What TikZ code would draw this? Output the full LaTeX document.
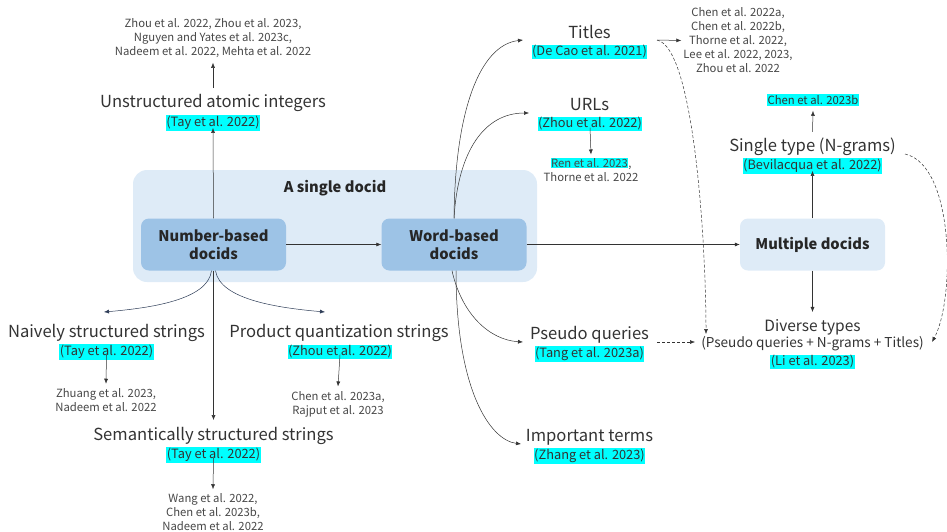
\documentclass[tikz,border=0pt]{standalone}
\usepackage{fontspec}
\setmainfont{Noto Sans CJK SC}
\usetikzlibrary{arrows.meta}
\definecolor{bgblue}{HTML}{DEEBF7}
\definecolor{midblue}{HTML}{9DC3E6}
\definecolor{hl}{HTML}{00FFFF}
\definecolor{txt}{HTML}{333333}
\definecolor{navy}{HTML}{2B3A55}
\setlength{\fboxsep}{0.5pt}
\begin{document}
\begin{tikzpicture}[x=1pt,y=-1pt,
  lbl/.style={font=\fontsize{16.6}{18}\selectfont, text=txt, inner sep=0pt},
  cite/.style={font=\fontsize{12.8}{14}\selectfont, fill=hl, text=txt, inner xsep=0.5pt, inner ysep=1pt},
  refs/.style={font=\fontsize{11.3}{14}\selectfont, text=txt!90, align=center, inner sep=0pt},
  box/.style={rounded corners=8pt, minimum width=145pt, minimum height=52pt, font=\bfseries\fontsize{14.7}{18}\selectfont, align=center, text=black!85},
  arr/.style={-{Latex[length=5pt,width=4pt]}, draw=black!80, line width=0.5pt},
  narr/.style={arr, draw=navy},
  darr/.style={arr, dashed, dash pattern=on 3pt off 2pt},
  ]
\useasboundingbox (0,0) rectangle (947,531);
% containers
\node[fill=bgblue, rounded corners=14pt, minimum width=404pt, minimum height=112pt] (single) at (335,226) {};
\node[font=\bfseries\fontsize{14.7}{16}\selectfont, text=black!85] (singlelbl) at (335,188) {A single docid};
\node[box, fill=midblue] (num) at (213.5,244.5) {Number-based\\docids};
\node[box, fill=midblue] (word) at (454,244.5) {Word-based\\docids};
\node[box, fill=bgblue] (multi) at (812.5,244.5) {Multiple docids};
% number-based branches
\node[lbl] (unstr) at (213,103) {Unstructured atomic integers};
\node[cite] (unstrc) at (213,123) {(Tay et al. 2022)};
\node[refs] (unstrr) at (213,38) {Zhou et al. 2022, Zhou et al. 2023,\\Nguyen and Yates et al. 2023c,\\Nadeem et al. 2022, Mehta et al. 2022};
\node[lbl] (naive) at (106.5,333) {Naively structured strings};
\node[cite] (naivec) at (106.5,352) {(Tay et al. 2022)};
\node[refs] (naiver) at (106,400.5) {Zhuang et al. 2023,\\Nadeem et al. 2022};
\node[lbl] (prod) at (339,333) {Product quantization strings};
\node[cite] (prodc) at (340,352) {(Zhou et al. 2022)};
\node[refs] (prodr) at (338,404.5) {Chen et al. 2023a,\\Rajput et al. 2023};
\node[lbl] (sem) at (213.5,436) {Semantically structured strings};
\node[cite] (semc) at (213.5,455) {(Tay et al. 2022)};
\node[refs] (semr) at (213,512) {Wang et al. 2022,\\Chen et al. 2023b,\\Nadeem et al. 2022};
% word-based branches
\node[lbl] (titles) at (589.5,32) {Titles};
\node[cite] (titlesc) at (589.5,52) {(De Cao et al. 2021)};
\node[refs] (titlesr) at (738,40.5) {Chen et al. 2022a,\\Chen et al. 2022b,\\Thorne et al. 2022,\\Lee et al. 2022, 2023,\\Zhou et al. 2022};
\node[lbl] (urls) at (589.5,105) {URLs};
\node[cite] (urlsc) at (590,124) {(Zhou et al. 2022)};
\node[refs] (urlsr) at (591,169.5) {\colorbox{hl}{Ren et al. 2023},\\Thorne et al. 2022};
\node[lbl] (pseudo) at (589.5,335) {Pseudo queries};
\node[cite] (pseudoc) at (589.5,354) {(Tang et al. 2023a)};
\node[lbl] (imp) at (589.5,437) {Important terms};
\node[cite] (impc) at (589.5,456) {(Zhang et al. 2023)};
% multiple docids branches
\node[lbl] (stype) at (812.5,147) {Single type (N-grams)};
\node[cite] (stypec) at (812.5,166) {(Bevilacqua et al. 2022)};
\node[cite, font=\fontsize{11.3}{13}\selectfont] (styper) at (813,100) {Chen et al. 2023b};
\node[lbl, font=\fontsize{15.5}{18}\selectfont] (div) at (812.5,327) {Diverse types};
\node[lbl, font=\fontsize{13.6}{15}\selectfont] (div2) at (812.5,344) {(Pseudo queries + N-grams + Titles)};
\node[cite] (divc) at (812.5,362) {(Li et al. 2023)};
% coordinates for free connector ends
\coordinate (naivein) at (104,312);
\coordinate (prodin) at (325,312);
\coordinate (titlesin) at (523,40);
\coordinate (urlsin) at (529,113);
\coordinate (pseudoin) at (523,342);
\coordinate (impin) at (521,444);
\coordinate (titlesout) at (657,40);
\coordinate (pseudoout) at (657,342);
\coordinate (divin) at (695,342);
\coordinate (divtop) at (706,334);
\coordinate (stypeout) at (905,154);
\coordinate (divright) at (932,342);
% connectors
\draw[arr] (num.east) -- (word.west);
\draw[arr] (word.east) -- (multi.west);
\draw[arr] (num.north) -- ([yshift=3pt]unstrc.south);
\draw[arr] ([yshift=6pt]unstr.north) -- ([yshift=-5pt]unstrr.south);
\draw[narr] ([xshift=-2pt]num.south) .. controls (208,300) and (150,308) .. (naivein);
\draw[narr] ([xshift=2pt]num.south) .. controls (220,300) and (280,308) .. (prodin);
\draw[arr] (num.south) -- ([yshift=7pt]sem.north);
\draw[arr] ([yshift=5pt]naivec.south) -- ([yshift=5pt]naiver.north);
\draw[arr] ([yshift=5pt]prodc.south) -- ([yshift=5pt]prodr.north);
\draw[arr] ([yshift=5pt]semc.south) -- ([yshift=4pt]semr.north);
\draw[arr] (word.north) .. controls (455,110) and (480,45) .. (titlesin);
\draw[arr] (word.north) .. controls (458,150) and (485,113) .. (urlsin);
\draw[arr] ([xshift=-2pt]word.south) .. controls (462,315) and (490,340) .. (pseudoin);
\draw[arr] ([xshift=2pt]word.south) .. controls (456,390) and (490,440) .. (impin);
\draw[arr] ([yshift=4pt]urlsc.south) -- ([yshift=3pt]urlsr.north);
\draw[arr] (titlesout) -- ([xshift=-2pt]titlesr.west);
\draw[darr] (titlesout) .. controls (695,48) and (706,250) .. (divtop);
\draw[darr] (pseudoout) -- (divin);
\draw[arr] (multi.north) -- ([yshift=3pt]stypec.south);
\draw[arr] ([yshift=6pt]stype.north) -- ([yshift=-5pt]styper.south);
\draw[arr] (multi.south) -- ([yshift=7pt]div.north);
\draw[darr] (stypeout) .. controls (955,165) and (955,300) .. (divright);
\end{tikzpicture}
\end{document}
